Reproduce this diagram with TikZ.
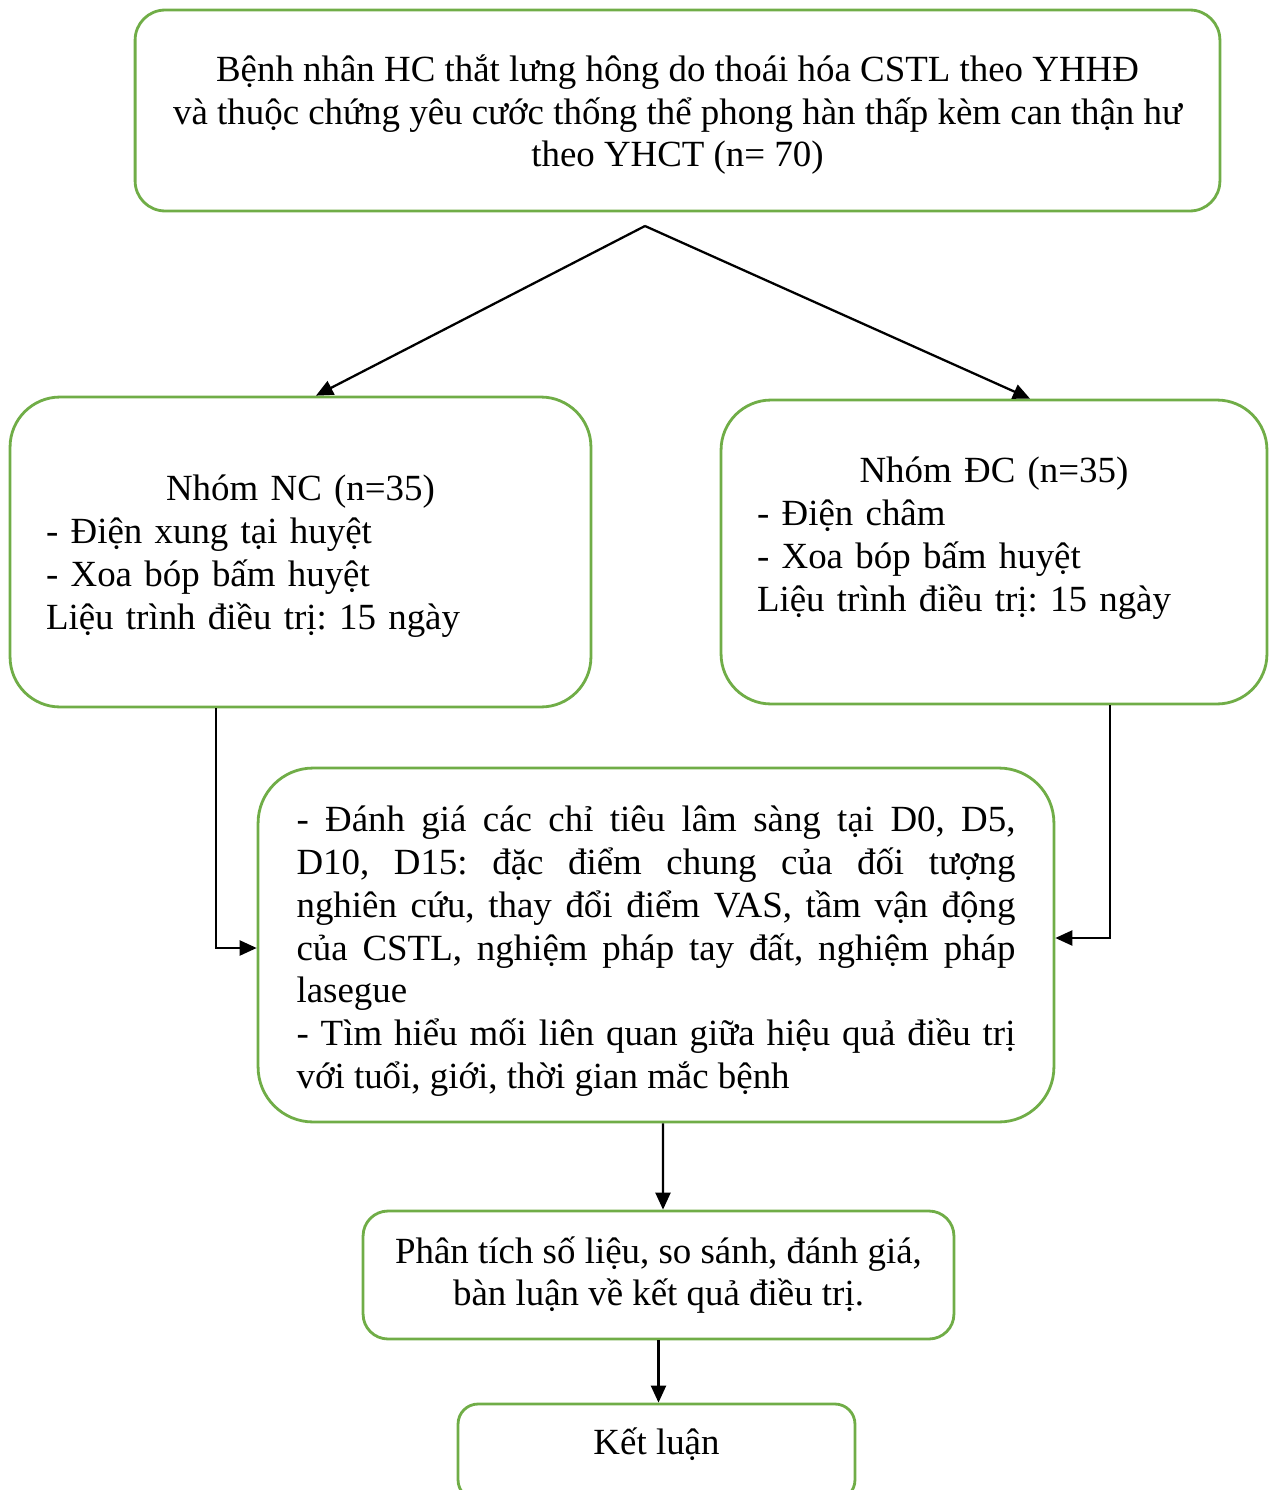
\documentclass[tikz,border=0pt]{standalone}
\usepackage{fontspec}
\setmainfont{Liberation Serif}
\usepackage{xcolor}
\usepackage{tikz}
\usetikzlibrary{shapes, arrows.meta, positioning}
\definecolor{boxgreen}{RGB}{112,173,71}
\hyphenpenalty=10000
\exhyphenpenalty=10000
\frenchspacing
\tikzset{
  greennode/.style={draw=boxgreen, line width=1.6pt, rectangle, inner sep=0pt, font=\fontsize{21pt}{24.4pt}\selectfont\frenchspacing},
  topnode/.style={greennode, rounded corners=0.6cm, minimum width=21.7cm, minimum height=4.02cm, align=center},
  groupnode/.style={greennode, rounded corners=1cm, align=left},
  evalnode/.style={greennode, rounded corners=1.1cm, minimum width=15.92cm, minimum height=7.08cm, text width=14.38cm, align=justify},
  resultnode/.style={greennode, align=center},
  arrow/.style={-{Triangle[length=0.34cm, width=0.3cm]}, line width=1.3pt}
}

\begin{document}
\begin{tikzpicture}[x=0.02cm, y=-0.02cm]
\useasboundingbox (0,0) rectangle (1268,1490);

% Nodes
\node[topnode] (PT) at (677.5,110.5) {\rule{0pt}{0.7cm}Bệnh nhân HC thắt lưng hông do thoái hóa CSTL theo YHHĐ\\ và thuộc chứng yêu cước thống thể phong hàn thấp kèm can thận hư\\ theo YHCT (n= 70)};
\node[groupnode, minimum width=11.62cm, minimum height=6.2cm, text width=10.18cm] (NC) at (300.5,552) {\makebox[\linewidth]{\rule{0pt}{0.69cm}Nhóm NC (n=35)}\\ - Điện xung tại huyệt\\ - Xoa bóp bấm huyệt\\ Liệu trình điều trị: 15 ngày};
\node[groupnode, minimum width=10.92cm, minimum height=6.08cm, text width=9.48cm] (DC) at (994,552) {\makebox[\linewidth]{Nhóm ĐC (n=35)}\\ - Điện châm\\ - Xoa bóp bấm huyệt\\ Liệu trình điều trị: 15 ngày\rule[-0.72cm]{0pt}{0pt}};
\node[evalnode] (EV) at (656,945) {\rule{0pt}{0.76cm}- Đánh giá các chỉ tiêu lâm sàng tại D0, D5,\linebreak D10, D15: đặc điểm chung của đối tượng\linebreak nghiên cứu, thay đổi điểm VAS, tầm vận động\linebreak của CSTL, nghiệm pháp tay đất, nghiệm pháp\linebreak lasegue\\ - Tìm hiểu mối liên quan giữa hiệu quả điều trị\linebreak với tuổi, giới, thời gian mắc bệnh};
\node[resultnode, rounded corners=0.5cm, minimum width=11.82cm, minimum height=2.56cm] (AN) at (658.5,1275) {Phân tích số liệu, so sánh, đánh giá,\\ bàn luận về kết quả điều trị.};
\node[resultnode, rounded corners=0.4cm, minimum width=7.94cm, minimum height=1.92cm] (KL) at (656.5,1452) {Kết luận\rule[-0.42cm]{0pt}{0pt}};

% Connections
\coordinate (fork) at (645,226);
\draw[arrow] (fork) -- ([xshift=0.31cm]NC.north);
\draw[arrow] (fork) -- ([xshift=0.72cm]DC.north);
\draw[arrow] ([xshift=-1.69cm]NC.south) |- ([yshift=-0.06cm]EV.west);
\draw[arrow] ([xshift=2.32cm]DC.south) |- ([yshift=0.14cm]EV.east);
\draw[arrow] ([xshift=0.14cm]EV.south) -- ([xshift=0.09cm]AN.north);
\draw[arrow] (AN.south) -- (AN.south |- KL.north);

\end{tikzpicture}
\end{document}
